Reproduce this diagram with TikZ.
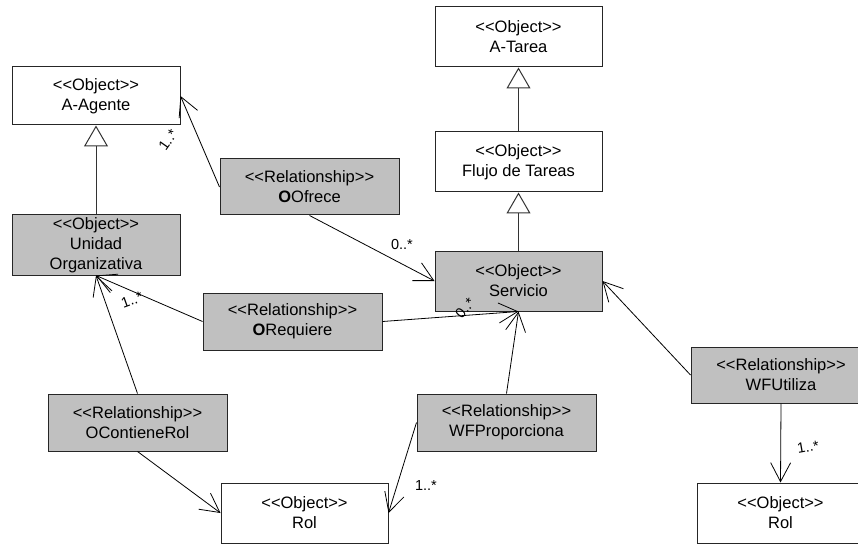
\documentclass[tikz,border=0pt]{standalone}
\usepackage{fontspec}
\setmainfont{Liberation Sans}[Ligatures=TeXOff]
\usetikzlibrary{arrows.meta}
\definecolor{boxgrey}{RGB}{192,192,192}
\begin{document}
\begin{tikzpicture}[x=1pt,y=-1pt,
  box/.style={draw=black!85, line width=1pt, inner sep=0pt, align=center,
    font=\fontsize{16.5}{20}\selectfont, minimum height=60pt},
  obj/.style={box, fill=white, minimum width=167pt},
  objg/.style={obj, fill=boxgrey},
  rel/.style={box, fill=boxgrey, minimum width=179pt, minimum height=57pt},
  assoc/.style={draw=black, line width=0.8pt, -{Straight Barb[length=19pt,width=20pt]}},
  gen/.style={draw=black!80, line width=1pt, -{Triangle[open,length=21pt,width=24pt,fill=white]}},
  mult/.style={font=\fontsize{14.5}{16}\selectfont, inner sep=0pt}
]
\useasboundingbox (0,0) rectangle (858,545);
\clip (0,0) rectangle (858,545);
\fill[white] (0,0) rectangle (858,545);

% classes
\node[obj, minimum width=168pt, minimum height=58pt] (agente) at (96,96) {<<Object>>\\A-Agente};
\node[objg, minimum width=168pt] (unidad) at (96,245) {<<Object>>\\Unidad\\Organizativa};
\node[obj] (atarea) at (518.5,37) {<<Object>>\\A-Tarea};
\node[obj] (flujo) at (518.5,162) {<<Object>>\\Flujo de Tareas};
\node[objg] (servicio) at (518.5,281) {<<Object>>\\Servicio};
\node[obj] (rolA) at (304.5,513) {<<Object>>\\Rol};
\node[obj] (rolB) at (780.5,513) {<<Object>>\\Rol};

% relationships
\node[rel, minimum height=56pt] (oofrece) at (309.5,187) {<<Relationship>>\\{\bfseries O}Ofrece};
\node[rel] (orequiere) at (292.5,321.5) {<<Relationship>>\\{\bfseries O}Requiere};
\node[rel] (ocontiene) at (137.5,422.5) {<<Relationship>>\\OContieneRol};
\node[rel] (wfprop) at (506.5,422.5) {<<Relationship>>\\WFProporciona};
\node[rel, minimum width=180pt, minimum height=56pt] (wfutil) at (781,375) {<<Relationship>>\\WFUtiliza};

% generalisations
\draw[gen] (unidad.north) -- (agente.south);
\draw[gen] (flujo.north) -- (atarea.south);
\draw[gen] (servicio.north) -- (flujo.south);

% associations
\draw[assoc] (oofrece.west) -- (agente.east);
\draw[assoc] (oofrece.south) -- (servicio.west);
\draw[assoc] (orequiere.west) -- (unidad.south);
\draw[assoc] (orequiere.east) -- (servicio.south);
\draw[assoc] (ocontiene.north) -- (unidad.south);
\draw[assoc] (ocontiene.south) -- (rolA.west);
\draw[assoc] (wfprop.north) -- (servicio.south);
\draw[assoc] (wfprop.west) -- (rolA.east);
\draw[assoc] (wfutil.west) -- (servicio.east);
\draw[assoc] (wfutil.south) -- (rolB.north);

% multiplicities
\node[mult, rotate=55] (m1) at (168,140) {1..*};
\node[mult] (m2) at (402,245) {0..*};
\node[mult, rotate=20] (m3) at (132,300) {1..*};
\node[mult, rotate=50] (m4) at (465,308) {0..*};
\node[mult] (m5) at (426,486) {1..*};
\node[mult, rotate=10] (m6) at (808,447) {1..*};
\end{tikzpicture}
\end{document}
